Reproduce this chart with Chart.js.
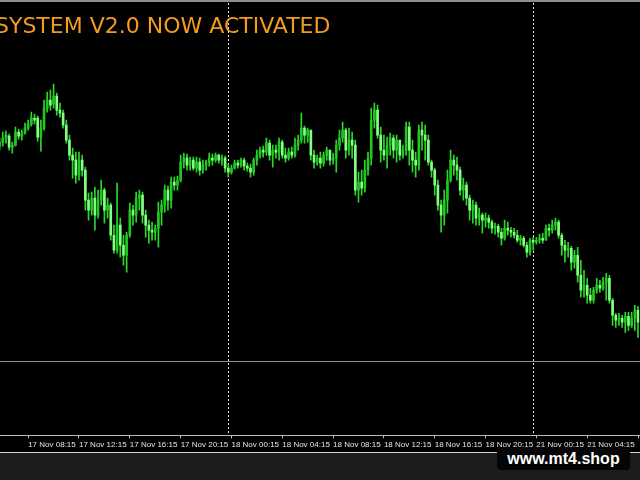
<!DOCTYPE html>
<html>
<head>
<meta charset="utf-8">
<script src="https://cdn.jsdelivr.net/npm/chart.js@4.4.1/dist/chart.umd.min.js"></script>
<style>
  body { margin: 0; background: #000; }
  #wrap { position: relative; width: 640px; height: 480px; overflow: hidden; background: #000; }
  #myChart { position: absolute; left: -2px; top: 0; }
  .topline { position: absolute; left: 0; top: 0; width: 640px; height: 2px; background: #8e8e8e; }
  .footer { position: absolute; left: 0; top: 452px; width: 640px; height: 28px; background: #1c1c1c; border-top: 1px solid #d4d4d4; }
  .badge { position: absolute; left: 497px; top: 447px; width: 133px; height: 23px; background: #050505; border-radius: 4px;
           color: #fff; font: bold 16px "Liberation Sans", Arial, sans-serif; line-height: 23px; text-align: center; }
</style>
</head>
<body>
<div id="wrap">
  <canvas id="myChart" width="642" height="452"></canvas>
  <div class="topline"></div>
  <div class="footer"></div>
  <div class="badge">www.mt4.shop</div>
</div>
<script>
// M15 bars, prices in points
const sessionDays = ["17 Nov", "18 Nov", "21 Nov"]
const sessionFirstQuarter = [24, 0, 0]
const sessionBars = [72, 96, 34]

const opens = [
  304, 308, 312, 314, 303, 305, 318, 314, 317, 322,
  326, 332, 332, 313, 322, 342, 350, 346, 354, 340,
  337, 325, 310, 295, 290, 275, 290, 280, 250, 240,
  252, 235, 250, 260, 240, 245, 215, 200, 225, 205,
  195, 215, 240, 235, 252, 255, 235, 225, 220, 218,
  222, 238, 245, 260, 250, 268, 265, 270, 288, 292,
  285, 290, 282, 288, 280, 285, 288, 292, 290, 295,
  290, 292, 282, 278, 282, 287, 285, 290, 284, 282,
  278, 290, 295, 300, 298, 307, 295, 300, 298, 308,
  295, 292, 298, 295, 305, 310, 322, 315, 320, 295,
  288, 292, 287, 295, 300, 290, 292, 305, 312, 320,
  300, 310, 305, 260, 268, 262, 280, 292, 330, 340,
  315, 300, 295, 305, 312, 300, 310, 295, 300, 323,
  300, 290, 285, 320, 315, 310, 288, 280, 265, 245,
  235, 250, 270, 290, 285, 280, 260, 265, 252, 240,
  245, 232, 235, 230, 232, 228, 222, 224, 218, 212,
  222, 220, 218, 215, 210, 212, 205, 198, 210, 208,
  210, 212, 210, 222, 220, 225, 228, 215, 205, 200,
  202, 188, 195, 175, 160, 165, 155, 150, 160, 165,
  162, 168, 172, 150, 135, 130, 132, 128, 134, 125,
  132, 140
]
const highs = [
  312, 318, 319, 316, 308, 323, 321, 320, 327, 330,
  338, 336, 334, 330, 350, 358, 360, 366, 357, 347,
  340, 330, 315, 302, 298, 298, 295, 283, 257, 258,
  263, 260, 270, 262, 252, 247, 225, 267, 232, 215,
  218, 247, 245, 258, 260, 258, 240, 230, 228, 225,
  248, 250, 265, 264, 273, 273, 274, 295, 297, 296,
  293, 293, 293, 292, 290, 290, 297, 296, 297, 296,
  295, 294, 286, 285, 290, 290, 292, 292, 287, 286,
  292, 300, 303, 304, 312, 310, 305, 305, 312, 310,
  302, 302, 303, 312, 315, 337, 324, 322, 320, 300,
  295, 298, 298, 303, 300, 297, 310, 320, 328, 322,
  322, 318, 310, 278, 280, 290, 298, 342, 347, 345,
  323, 315, 313, 317, 315, 315, 310, 305, 328, 328,
  310, 298, 325, 328, 325, 315, 290, 282, 270, 250,
  260, 280, 300, 295, 293, 283, 272, 268, 255, 250,
  248, 242, 237, 237, 235, 230, 227, 226, 222, 230,
  228, 223, 222, 220, 215, 214, 208, 212, 213, 213,
  216, 217, 225, 226, 230, 232, 230, 217, 210, 208,
  204, 200, 203, 190, 180, 172, 162, 163, 172, 170,
  173, 177, 175, 152, 137, 137, 135, 138, 138, 138,
  145, 144
]
const lows = [
  300, 304, 307, 300, 297, 304, 311, 310, 316, 320,
  324, 326, 309, 299, 320, 338, 340, 342, 335, 333,
  322, 307, 290, 272, 267, 270, 274, 240, 230, 235,
  220, 232, 245, 227, 232, 210, 197, 197, 193, 185,
  178, 213, 225, 228, 240, 227, 213, 207, 210, 210,
  203, 225, 238, 240, 242, 260, 260, 268, 282, 280,
  280, 280, 278, 275, 277, 280, 284, 285, 288, 287,
  285, 278, 273, 276, 281, 282, 283, 280, 279, 273,
  275, 285, 292, 293, 295, 290, 283, 292, 290, 292,
  288, 290, 292, 293, 300, 307, 307, 308, 290, 282,
  285, 282, 284, 290, 285, 286, 278, 300, 308, 292,
  295, 292, 255, 248, 255, 258, 275, 285, 322, 312,
  288, 290, 282, 295, 292, 288, 290, 292, 295, 285,
  278, 273, 280, 300, 290, 285, 273, 255, 240, 218,
  225, 237, 268, 275, 270, 255, 250, 245, 230, 227,
  225, 225, 217, 223, 222, 217, 216, 213, 205, 210,
  215, 213, 212, 208, 205, 203, 193, 195, 200, 206,
  207, 207, 210, 214, 217, 220, 212, 195, 188, 193,
  180, 182, 168, 153, 153, 147, 147, 147, 157, 158,
  160, 150, 147, 125, 123, 125, 123, 118, 120, 123,
  120, 113
]
const closes = [
  308, 312, 315, 303, 305, 318, 314, 317, 322, 326,
  332, 330, 313, 322, 342, 350, 345, 354, 340, 337,
  325, 310, 295, 290, 275, 290, 280, 250, 240, 252,
  235, 250, 260, 240, 245, 215, 200, 225, 205, 195,
  215, 240, 235, 252, 255, 235, 225, 220, 218, 222,
  238, 245, 260, 250, 268, 265, 270, 288, 292, 285,
  290, 282, 288, 280, 285, 288, 292, 290, 295, 290,
  292, 282, 278, 282, 287, 285, 290, 284, 282, 278,
  290, 295, 300, 298, 307, 295, 300, 298, 308, 295,
  292, 298, 295, 305, 310, 322, 315, 320, 295, 288,
  292, 287, 295, 300, 290, 292, 305, 312, 320, 300,
  310, 305, 260, 268, 262, 280, 292, 330, 340, 315,
  300, 295, 305, 312, 300, 310, 295, 300, 323, 300,
  290, 285, 320, 315, 310, 288, 280, 265, 245, 235,
  250, 270, 290, 285, 280, 260, 265, 252, 240, 245,
  232, 235, 230, 232, 228, 222, 224, 218, 212, 222,
  220, 218, 215, 210, 212, 205, 198, 210, 208, 210,
  212, 210, 222, 220, 225, 228, 215, 205, 200, 202,
  188, 195, 175, 160, 165, 155, 150, 160, 165, 162,
  168, 172, 150, 135, 130, 132, 128, 134, 125, 132,
  140, 128
]
const levelPrice = 89
const priceMin = 15
const priceMax = 445
const titleText = "SYSTEM V2.0 NOW ACTIVATED"

const bullColor = "#22c622"
const bearColor = "#80ff80"
const wickColor = "#2ad82a"

// bar times
const barTimes = []
for (let s = 0; s < sessionDays.length; s++) {
  for (let q = sessionFirstQuarter[s]; q < sessionFirstQuarter[s] + sessionBars[s]; q++) {
    const hh = String(Math.floor(q / 4)).padStart(2, "0")
    const mm = String((q % 4) * 15).padStart(2, "0")
    barTimes.push(sessionDays[s] + " " + hh + ":" + mm)
  }
}
const dayStarts = []
barTimes.forEach(function (t, i) {
  if (t.endsWith(" 00:00")) dayStarts.push(i)
})

function candleColor(ctx) {
  const i = ctx.dataIndex
  return closes[i] >= opens[i] ? bullColor : bearColor
}

const bodies = opens.map(function (o, i) { return [o, closes[i]] })
const wicks = lows.map(function (l, i) { return [l, highs[i]] })

const overlay = {
  id: "overlay",
  beforeDatasetsDraw(chart) {
    const { ctx, chartArea, scales } = chart
    ctx.save()
    const yl = Math.round(scales.y.getPixelForValue(levelPrice)) + 0.5
    ctx.strokeStyle = "#8c8c8c"
    ctx.lineWidth = 1
    ctx.beginPath()
    ctx.moveTo(0, yl)
    ctx.lineTo(chart.width, yl)
    ctx.stroke()
    ctx.setLineDash([2, 2])
    ctx.strokeStyle = "#e6e6e6"
    dayStarts.forEach(function (i) {
      const x = Math.round(scales.x.getPixelForValue(i)) + 0.5
      ctx.beginPath()
      ctx.moveTo(x, chartArea.top - 2)
      ctx.lineTo(x, chartArea.bottom)
      ctx.stroke()
    })
    ctx.restore()
  },
  afterDraw(chart) {
    const ctx = chart.ctx
    ctx.save()
    ctx.font = '22px "DejaVu Sans"'
    ctx.fillStyle = "#f29b1e"
    ctx.textBaseline = "alphabetic"
    ctx.fillText(titleText, -3, 33)
    ctx.restore()
  }
}

const config = {
  type: "bar",
  data: {
    labels: barTimes,
    datasets: [
      {
        data: bodies,
        backgroundColor: candleColor,
        borderWidth: 0,
        borderSkipped: false,
        barThickness: 2,
        grouped: false
      },
      {
        data: wicks,
        backgroundColor: wickColor,
        borderWidth: 0,
        borderSkipped: false,
        barThickness: 1,
        grouped: false
      }
    ]
  },
  options: {
    responsive: false,
    animation: false,
    devicePixelRatio: 1,
    events: [],
    layout: { padding: { top: 5, left: 0, right: 0, bottom: 0 } },
    plugins: { legend: { display: false }, tooltip: { enabled: false } },
    scales: {
      x: {
        offset: true,
        border: { color: "#bdbdbd" },
        grid: { offset: false, drawOnChartArea: false, drawTicks: true, tickLength: 3, color: "#bdbdbd" },
        ticks: {
          autoSkip: false,
          maxRotation: 0,
          minRotation: 0,
          align: "start",
          padding: 2,
          color: "#e4e4e4",
          font: { family: "Liberation Sans", size: 8 },
          callback: function (v, i) {
            const t = barTimes[i]
            const h = parseInt(t.slice(7, 9), 10)
            const m = t.slice(10, 12)
            if (m === "15" && h % 4 === 0) return i === barTimes.length - 1 ? "" : t
            return null
          }
        }
      },
      y: { display: false, min: priceMin, max: priceMax }
    }
  },
  plugins: [overlay]
}

const myChart = new Chart(document.getElementById("myChart"), config)
</script>
</body>
</html>
